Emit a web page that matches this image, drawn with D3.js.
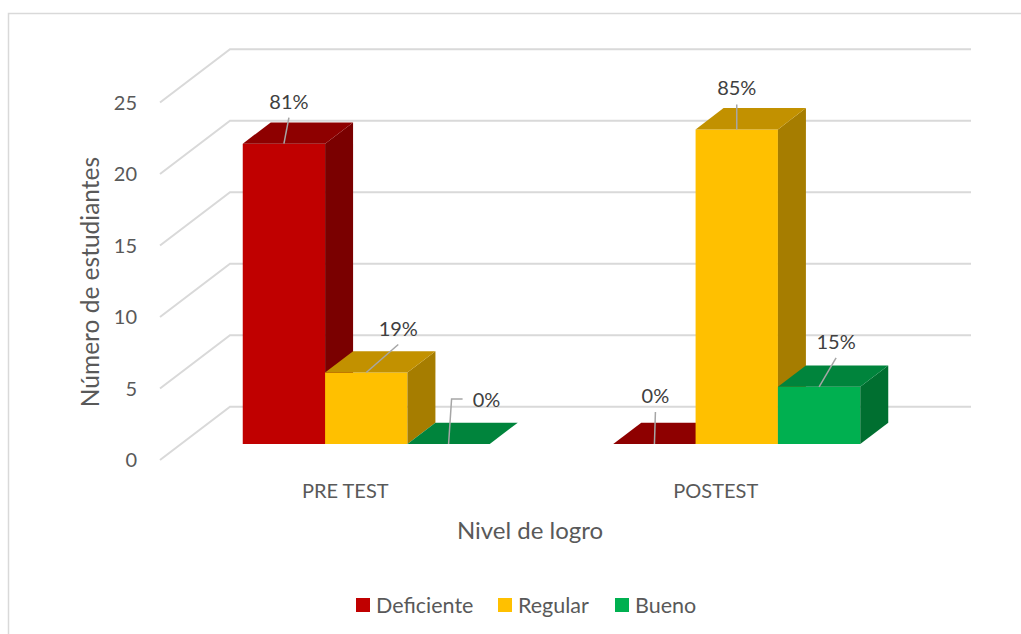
<!DOCTYPE html>
<html><head><meta charset="utf-8">
<script src="https://cdn.jsdelivr.net/npm/d3@7"></script>
<style>body{margin:0;background:#fff;} svg{display:block;font-family:Lato, "Open Sans", sans-serif;}</style>
</head><body>
<svg id="c" width="1021" height="634"></svg>
<script>
const categories = ["PRE TEST", "POSTEST"];
const seriesNames = ["Deficiente", "Regular", "Bueno"];
const deficiente = [21, 0];
const regular = [5, 22];
const bueno = [0, 4];
const pctDeficiente = ["81%", "0%"];
const pctRegular = ["19%", "85%"];
const pctBueno = ["0%", "15%"];
const yTicks = [0, 5, 10, 15, 20, 25];

const colFront = {Deficiente:"#C00000", Regular:"#FFC000", Bueno:"#00B050"};
const colTop = {Deficiente:"#8E0000", Regular:"#C29100", Bueno:"#00843C"};
const colSide = {Deficiente:"#7A0000", Regular:"#A67D00", Bueno:"#006F30"};

const svg = d3.select("#c");
const DX = 70, DY = 53.3;
const y = d3.scaleLinear().domain([0, 25]).range([460, 102.5]);
const x0 = d3.scaleBand().domain(categories).range([160, 901]);
const x1 = d3.scaleBand().domain(seriesNames).range([0, x0.bandwidth()]).paddingOuter(0.75).paddingInner(0);
const P = (x, v, z) => [x + z * DX, y(v) - z * DY];
const line = d3.line();

// frame
svg.append("path").attr("d", "M8.5,634 L8.5,13.5 L1021,13.5").attr("fill","none").attr("stroke","#d9d9d9").attr("stroke-width",1.5);

// walls gridlines
const g = svg.append("g");
yTicks.forEach(t => {
  const a = P(160, t, 0), b = P(160, t, 1), c = P(901, t, 1);
  g.append("path").attr("d", line([a, b, c])).attr("fill","none").attr("stroke","#d9d9d9").attr("stroke-width",2);
});

// tick labels
svg.append("g").selectAll("text").data(yTicks).join("text")
  .attr("x", 137).attr("y", d => y(d)).attr("dy","0.35em").attr("text-anchor","end")
  .attr("fill","#595959").style("font-size","20px").text(d => d);

// bars
const z0 = 0.3, z1 = 0.7;
const seriesVals = {Deficiente: deficiente, Regular: regular, Bueno: bueno};
const seriesPct = {Deficiente: pctDeficiente, Regular: pctRegular, Bueno: pctBueno};
const bars = svg.append("g");
categories.forEach((cat, ci) => {
  seriesNames.forEach(s => {
    const v = seriesVals[s][ci];
    const bx = x0(cat) + x1(s), w = x1.bandwidth();
    const gb = bars.append("g");
    if (v > 0) {
      gb.append("path").attr("d", line([P(bx,0,z0),P(bx+w,0,z0),P(bx+w,v,z0),P(bx,v,z0)])+"Z").attr("fill", colFront[s]);
      gb.append("path").attr("d", line([P(bx+w,0,z0),P(bx+w,0,z1),P(bx+w,v,z1),P(bx+w,v,z0)])+"Z").attr("fill", colSide[s]);
    }
    gb.append("path").attr("d", line([P(bx,v,z0),P(bx+w,v,z0),P(bx+w,v,z1),P(bx,v,z1)])+"Z").attr("fill", colTop[s]);
  });
});

// data labels with leader lines
const labels = svg.append("g");
const labelPos = {
  "PRE TEST|Deficiente": {dx: 5, dy: -42, path: "straight"},
  "PRE TEST|Regular": {dx: 32, dy: -44, path: "straight"},
  "PRE TEST|Bueno": {dx: 38, dy: -44, path: "elbow"},
  "POSTEST|Deficiente": {dx: 1, dy: -48, path: "straight"},
  "POSTEST|Regular": {dx: 0, dy: -41, path: "straight"},
  "POSTEST|Bueno": {dx: 17, dy: -45, path: "straight"}
};
categories.forEach((cat, ci) => {
  seriesNames.forEach(s => {
    const v = seriesVals[s][ci];
    const bx = x0(cat) + x1(s), w = x1.bandwidth();
    const anchor = P(bx + w/2, v, z0);
    const lp = labelPos[cat + "|" + s];
    const lx = anchor[0] + lp.dx, ly = anchor[1] + lp.dy;
    let pts;
    if (lp.path === "elbow") {
      pts = [[lx - 24, ly - 1], [lx - 35, ly - 1], [lx - 38, anchor[1]]];
    } else {
      pts = [[lx, ly + 16], anchor];
    }
    labels.append("path").attr("d", line(pts)).attr("fill","none").attr("stroke","#a6a6a6").attr("stroke-width",1.5);
    labels.append("text").attr("x", lx).attr("y", ly).attr("dy","0.35em").attr("text-anchor","middle")
      .attr("fill","#404040").style("font-size","20px").text(seriesPct[s][ci]);
  });
});

// category labels
svg.append("g").selectAll("text").data(categories).join("text")
  .attr("x", d => x0(d) + x0.bandwidth()/2).attr("y", 491).attr("dy","0.35em").attr("text-anchor","middle")
  .attr("fill","#595959").style("font-size","20px").text(d => d);

// axis titles
svg.append("text").attr("transform","translate(90,282) rotate(-90)").attr("dy","0.35em").attr("text-anchor","middle")
  .attr("fill","#595959").style("font-size","24.5px").text("Número de estudiantes");
svg.append("text").attr("x", 530).attr("y", 531).attr("dy","0.35em").attr("text-anchor","middle")
  .attr("fill","#595959").style("font-size","24px").text("Nivel de logro");

// legend
const legX = [356, 498, 615];
const leg = svg.append("g");
seriesNames.forEach((s, i) => {
  leg.append("rect").attr("x", legX[i]).attr("y", 598).attr("width", 14).attr("height", 14).attr("fill", colFront[s]);
  leg.append("text").attr("x", legX[i] + 20).attr("y", 605).attr("dy","0.35em").attr("fill","#595959").style("font-size","21.5px").text(s);
});
</script>
</body></html>
